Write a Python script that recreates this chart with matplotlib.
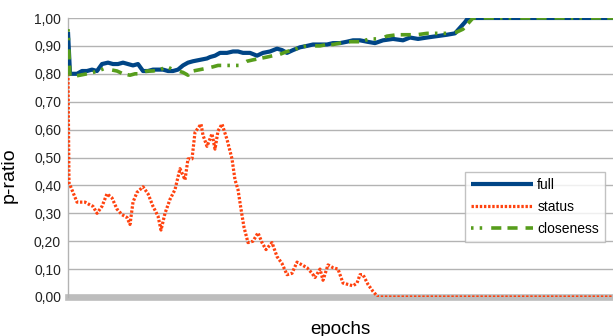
import matplotlib
matplotlib.use("Agg")
import matplotlib.pyplot as plt
from matplotlib.ticker import FixedLocator, FuncFormatter

plt.rcParams['font.family'] = ['Liberation Sans', 'DejaVu Sans']

# ---- data (epoch, value) ----
full_x = [0, 2, 4, 9, 14, 19, 24, 29, 34, 40, 45, 50, 55, 60, 65, 70, 75, 80, 85, 90,
          95, 100, 105, 110, 115, 120, 125, 132, 139, 142, 147, 152, 159, 165, 170, 175,
          182, 189, 195, 202, 209, 214, 219, 225, 232, 239, 245, 252, 259, 265, 272, 279,
          285, 292, 299, 307, 315, 325, 335, 342, 350, 359, 369, 379, 387, 392, 397, 400, 545]
full_y = [0.95, 0.80, 0.80, 0.80, 0.81, 0.81, 0.815, 0.81, 0.835, 0.84, 0.835, 0.835, 0.84,
          0.835, 0.83, 0.835, 0.81, 0.81, 0.815, 0.815, 0.815, 0.81, 0.81, 0.815, 0.83, 0.84,
          0.845, 0.85, 0.855, 0.86, 0.865, 0.875, 0.875, 0.88, 0.88, 0.875, 0.875, 0.865,
          0.875, 0.88, 0.89, 0.885, 0.875, 0.885, 0.895, 0.90, 0.905, 0.905, 0.905, 0.91,
          0.91, 0.915, 0.92, 0.92, 0.915, 0.91, 0.92, 0.925, 0.92, 0.93, 0.925, 0.93, 0.935,
          0.94, 0.945, 0.965, 0.985, 1.00, 1.00]

status_x = [0, 1, 5, 9, 12, 17, 22, 25, 29, 34, 39, 44, 49, 54, 59, 62, 65, 69, 75, 80,
            85, 90, 93, 97, 102, 107, 112, 117, 120, 124, 127, 133, 135, 139, 144, 147, 150,
            154, 159, 164, 167, 170, 173, 176, 180, 185, 190, 194, 198, 204, 209, 214, 219,
            224, 229, 234, 239, 244, 247, 252, 255, 260, 265, 270, 275, 280, 285, 289, 292,
            295, 300, 305, 310, 545]
status_y = [0.80, 0.41, 0.375, 0.34, 0.34, 0.34, 0.33, 0.325, 0.30, 0.325, 0.37, 0.355,
            0.315, 0.295, 0.285, 0.26, 0.34, 0.375, 0.395, 0.37, 0.325, 0.29, 0.24, 0.30,
            0.35, 0.385, 0.46, 0.42, 0.495, 0.495, 0.59, 0.62, 0.58, 0.54, 0.585, 0.53,
            0.595, 0.62, 0.565, 0.495, 0.42, 0.385, 0.315, 0.25, 0.195, 0.20, 0.23, 0.195,
            0.17, 0.195, 0.145, 0.12, 0.08, 0.085, 0.125, 0.115, 0.105, 0.085, 0.07, 0.10,
            0.06, 0.115, 0.105, 0.10, 0.05, 0.045, 0.04, 0.05, 0.08, 0.08, 0.045, 0.02, 0.0, 0.0]

close_x = [0, 2, 4, 12, 19, 25, 30, 37, 42, 49, 55, 62, 67, 72, 79, 85, 92, 99, 105, 110,
           115, 120, 125, 132, 139, 145, 150, 157, 165, 172, 179, 185, 192, 199, 205, 212,
           219, 225, 232, 239, 245, 252, 259, 265, 272, 279, 285, 292, 302, 312, 319, 329,
           339, 349, 359, 369, 379, 389, 395, 400, 405, 545]
close_y = [0.96, 0.79, 0.79, 0.795, 0.80, 0.805, 0.81, 0.82, 0.815, 0.81, 0.80, 0.795, 0.80,
           0.80, 0.81, 0.81, 0.815, 0.825, 0.815, 0.81, 0.805, 0.795, 0.81, 0.815, 0.82,
           0.825, 0.83, 0.83, 0.83, 0.83, 0.845, 0.85, 0.855, 0.86, 0.865, 0.87, 0.88, 0.885,
           0.895, 0.90, 0.90, 0.90, 0.905, 0.905, 0.91, 0.915, 0.915, 0.915, 0.925, 0.925,
           0.935, 0.94, 0.94, 0.94, 0.945, 0.945, 0.945, 0.95, 0.96, 0.98, 1.00, 1.00]

y_ticks = [0.0, 0.1, 0.2, 0.3, 0.4, 0.5, 0.6, 0.7, 0.8, 0.9, 1.0]
x_max = 545

# ---- figure ----
fig = plt.figure(figsize=(6.13, 3.36), dpi=100)
ax = fig.add_axes([68 / 613, 1 - 297 / 336, 1 - 68 / 613, (297 - 18) / 336])

for yv in y_ticks[1:]:
    ax.axhline(yv, color='#b3b3b3', lw=1.0, zorder=1)
ax.axhline(0.0, color='#bdbdbd', lw=4.8, zorder=1.5, clip_on=False)

ax.plot(full_x, full_y, color='#004586', lw=3.0, solid_capstyle='butt', label='full', zorder=3)
ax.plot(status_x, status_y, color='#ff420e', lw=2.3, linestyle=(0, (0.75, 0.55)),
        label='status', zorder=4)
ax.plot(close_x, close_y, color='#579d1c', lw=2.6,
        linestyle=(0, (0.7, 1.7, 0.7, 2.5, 2.8, 1.7, 2.8, 2.2, 2.8, 1.7)),
        label='closeness', zorder=5)

ax.set_xlim(0, x_max)
ax.set_ylim(0, 1.0)
ax.yaxis.set_major_locator(FixedLocator(y_ticks))
ax.yaxis.set_major_formatter(FuncFormatter(lambda v, p: f"{v:.2f}".replace('.', ',')))
ax.set_xticks([])
ax.tick_params(axis='y', length=0, pad=5, labelsize=10, colors='#222222')

for s in ['top', 'right', 'bottom']:
    ax.spines[s].set_visible(False)
ax.spines['left'].set_color('#b3b3b3')
ax.spines['left'].set_linewidth(1.0)

ax.set_ylabel('p-ratio', fontsize=14)
ax.yaxis.set_label_coords(-0.092, 0.437)
ax.set_xlabel('epochs', fontsize=13.5, labelpad=17)

leg = ax.legend(loc='upper left', bbox_to_anchor=((465 - 68) / 545, (297 - 172) / 279),
                borderaxespad=0, fontsize=10, handlelength=4.45, frameon=True,
                fancybox=False, edgecolor='#b3b3b3', borderpad=0.45, labelspacing=0.55,
                handletextpad=0.3)
leg.get_frame().set_linewidth(1.0)

fig.savefig('out.png', dpi=100)
